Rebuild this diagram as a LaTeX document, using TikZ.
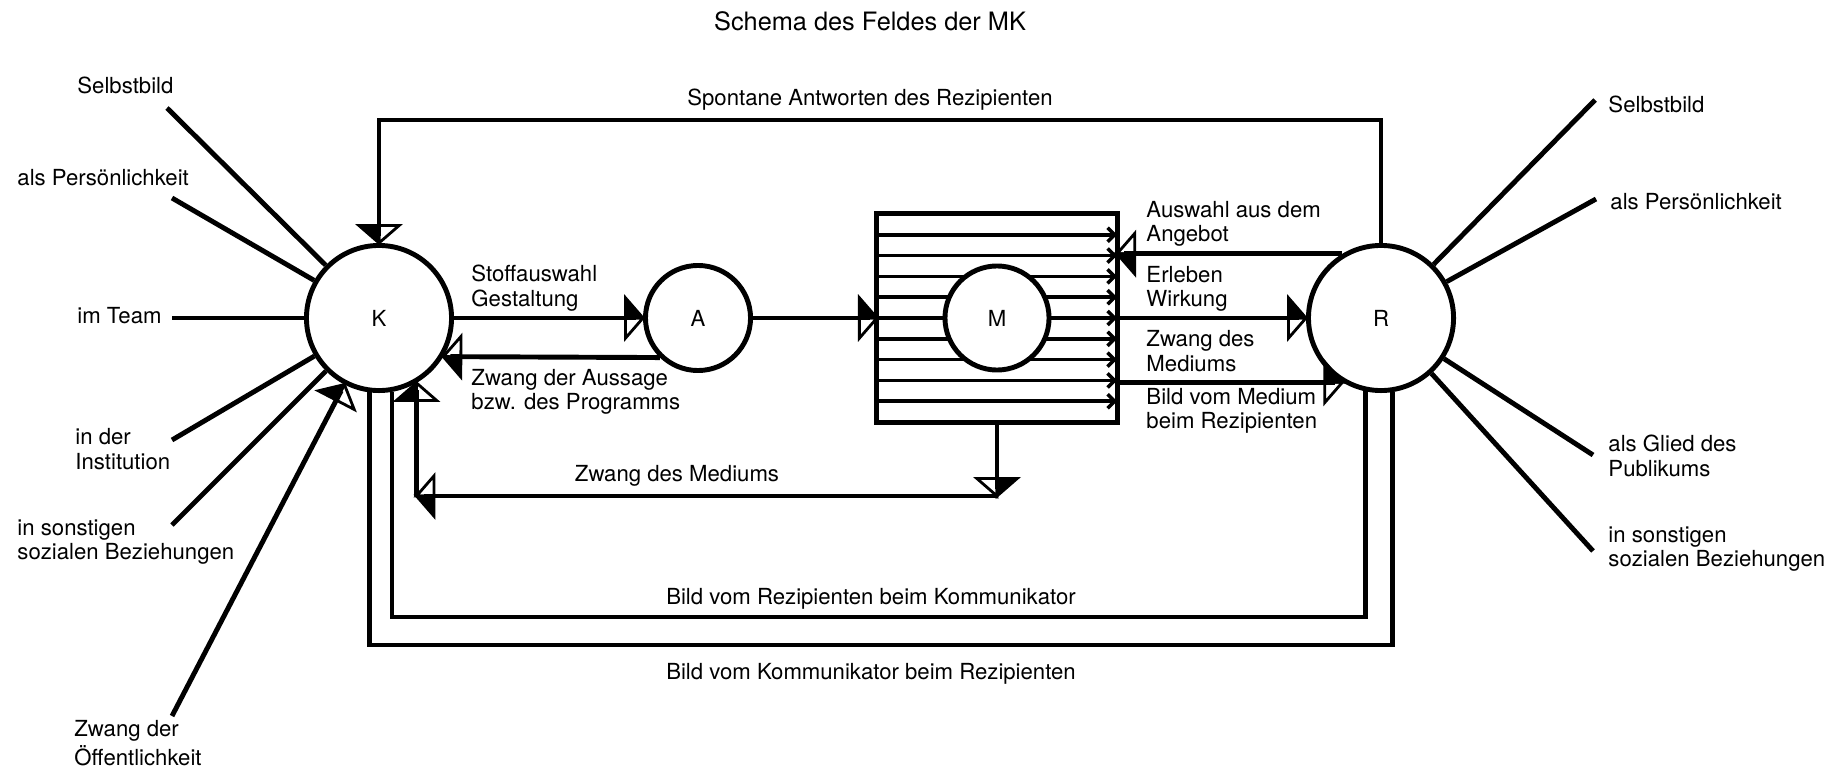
\documentclass[tikz,border=0pt]{standalone}
\usepackage{fontspec}
\setmainfont{TeX Gyre Heros}
\usetikzlibrary{arrows.meta, calc}

\newcommand\lblfont{\fontsize{6.3pt}{7pt}\selectfont}

% half filled triangle tip (filled on the left of the direction)
\pgfdeclarearrow{
  name = Halb,
  parameters = {\the\pgfarrowlength,\the\pgfarrowwidth},
  setup code = {
    \pgfarrowssettipend{0pt}
    \pgfarrowssetlineend{-0.4\pgfarrowlength}
    \pgfarrowssetbackend{-\pgfarrowlength}
    \pgfarrowssetvisualbackend{-\pgfarrowlength}
    \pgfarrowshullpoint{0pt}{0pt}
    \pgfarrowsupperhullpoint{-\pgfarrowlength}{.5\pgfarrowwidth}
    \pgfarrowssavethe\pgfarrowlength
    \pgfarrowssavethe\pgfarrowwidth
  },
  drawing code = {
    \pgfsetdash{}{0pt}
    \pgfsetlinewidth{0.8pt}
    \pgfsetmiterjoin
    \pgfpathmoveto{\pgfpoint{0pt}{0pt}}
    \pgfpathlineto{\pgfpoint{-\pgfarrowlength}{.5\pgfarrowwidth}}
    \pgfpathlineto{\pgfpoint{-\pgfarrowlength}{0pt}}
    \pgfpathclose
    \pgfusepathqfillstroke
    \pgfpathmoveto{\pgfpoint{0pt}{0pt}}
    \pgfpathlineto{\pgfpoint{-\pgfarrowlength}{-.5\pgfarrowwidth}}
    \pgfpathlineto{\pgfpoint{-\pgfarrowlength}{0pt}}
    \pgfpathclose
    \pgfusepathqstroke
  },
  defaults = {length = 5pt, width = 11.5pt}
}
% same, filled on the right
\pgfdeclarearrow{
  name = HalbS,
  parameters = {\the\pgfarrowlength,\the\pgfarrowwidth},
  setup code = {
    \pgfarrowssettipend{0pt}
    \pgfarrowssetlineend{-0.4\pgfarrowlength}
    \pgfarrowssetbackend{-\pgfarrowlength}
    \pgfarrowssetvisualbackend{-\pgfarrowlength}
    \pgfarrowshullpoint{0pt}{0pt}
    \pgfarrowsupperhullpoint{-\pgfarrowlength}{.5\pgfarrowwidth}
    \pgfarrowssavethe\pgfarrowlength
    \pgfarrowssavethe\pgfarrowwidth
  },
  drawing code = {
    \pgfsetdash{}{0pt}
    \pgfsetlinewidth{0.8pt}
    \pgfsetmiterjoin
    \pgfpathmoveto{\pgfpoint{0pt}{0pt}}
    \pgfpathlineto{\pgfpoint{-\pgfarrowlength}{-.5\pgfarrowwidth}}
    \pgfpathlineto{\pgfpoint{-\pgfarrowlength}{0pt}}
    \pgfpathclose
    \pgfusepathqfillstroke
    \pgfpathmoveto{\pgfpoint{0pt}{0pt}}
    \pgfpathlineto{\pgfpoint{-\pgfarrowlength}{.5\pgfarrowwidth}}
    \pgfpathlineto{\pgfpoint{-\pgfarrowlength}{0pt}}
    \pgfpathclose
    \pgfusepathqstroke
  },
  defaults = {length = 5pt, width = 11.5pt}
}

\begin{document}
\begin{tikzpicture}[x=0.01cm, y=-0.01cm, line width=1.4pt,
  kreis/.style={draw, circle, inner sep=0pt, fill=white, font=\lblfont},
  lbl/.style={font=\lblfont, align=left, inner sep=0pt, anchor=west},
  mitte/.style={font=\lblfont, inner sep=0pt},
  pfeil/.style={-{Halb}},
  pfeils/.style={-{HalbS}}]
  \useasboundingbox (0,0) rectangle (1831,770);

  \node[font=\fontsize{7.2pt}{8pt}\selectfont] (titel) at (870,21) {Schema des Feldes der MK};

  % K, A, Medium, R
  \node[kreis, minimum size=1.45cm] (K) at (379,318) {K};
  \node[kreis, minimum size=1.05cm] (A) at (698,318) {A};
  \node[draw, minimum width=2.4cm, minimum height=2.08cm, inner sep=0pt, outer sep=0pt] (box) at (997,318) {};
  \foreach \i in {1,...,9}
    \draw[line width=1pt, -{Straight Barb[length=2pt,width=4pt]}] ($(box.north west)!\i/10!(box.south west)$) -- ($(box.north east)!\i/10!(box.south east)$);
  \node[kreis, minimum size=1.04cm] (M) at (box) {M};
  \node[kreis, minimum size=1.45cm] (R) at (1381,318) {R};

  \draw[pfeil] (K) -- (A);
  \draw[pfeil] (A.226) -- (K.329);
  \draw[pfeil] (A) -- (box);
  \draw[pfeil] (box) -- (R);
  \draw[pfeil] (R.121) -- (R.121 -| box.east);
  \draw[pfeil] (box.east |- R.239) -- (R.239);

  % Zwang des Mediums
  \coordinate (zm) at (0,496);
  \draw[pfeil] (box.south) -- (box.south |- zm);
  \draw[pfeil] (box.south |- zm) -- (K.300 |- zm);
  \draw[pfeil] (K.300 |- zm) -- (K.300);

  % Rueckkopplungen
  \coordinate (oben) at (0,120);
  \coordinate (bi) at (0,617);
  \coordinate (ba) at (0,645);
  \draw[pfeils] (R.north) -- (R.north |- oben) -| (K.north);
  \draw (K.280) |- (bi -| R.258) -- (R.258);
  \draw (K.263) |- (ba -| R.279) -- (R.279);

  \node[mitte] (spo) at (870,100) {Spontane Antworten des Rezipienten};
  \node[mitte] (brk) at (871,599) {Bild vom Rezipienten beim Kommunikator};
  \node[mitte] (bkr) at (871,674) {Bild vom Kommunikator beim Rezipienten};
  \node[mitte] (zdm) at (677,476) {Zwang des Mediums};
  \node[lbl] (stoff) at (469,288) {Stoffauswahl\\Gestaltung};
  \node[lbl] (aussage) at (469,392) {Zwang der Aussage\\bzw. des Programms};
  \node[lbl] (auswahl) at (1144,224) {Auswahl aus dem\\Angebot};
  \node[lbl] (erleben) at (1144,289) {Erleben\\Wirkung};
  \node[lbl] (zwang) at (1144,351) {Zwang des\\Mediums};
  \node[lbl] (bild) at (1144,411) {Bild vom Medium\\beim Rezipienten};

  % Felder um K
  \foreach \name/\lx/\ly/\ex/\ey/\txt in {
      ks/75/85/167/108/{Selbstbild},
      kp/15/178/172/198/{als Persönlichkeit},
      kt/75/316/172/318/{im Team},
      ki/73/449/172/440/{in der\\Institution},
      kb/15/542/172/525/{in sonstigen\\sozialen Beziehungen}} {
    \node[lbl] (\name) at (\lx,\ly) {\txt};
    \coordinate (\name-e) at (\ex,\ey);
    \draw (\name-e) -- (K);
  }
  \node[lbl] (ko) at (72,743) {Zwang der\\Öffentlichkeit};
  \coordinate (ko-e) at (172,716);
  \draw[pfeil] (ko-e) -- (K);

  % Felder um R
  \foreach \name/\lx/\ly/\ex/\ey/\txt in {
      rs/1606/104/1595/100/{Selbstbild},
      rp/1608/202/1596/199/{als Persönlichkeit},
      rg/1606/456/1593/455/{als Glied des\\Publikums},
      rb/1606/549/1593/551/{in sonstigen\\sozialen Beziehungen}} {
    \node[lbl] (\name) at (\lx,\ly) {\txt};
    \coordinate (\name-e) at (\ex,\ey);
    \draw (\name-e) -- (R);
  }
\end{tikzpicture}
\end{document}
